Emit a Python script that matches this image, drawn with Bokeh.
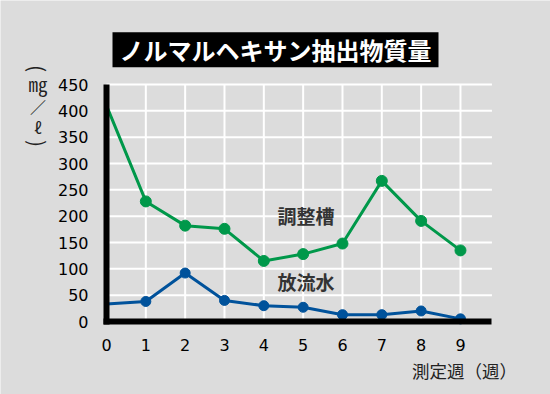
import math
from bokeh.plotting import figure
from bokeh.models import Label, FixedTicker, Range1d
from bokeh.embed import file_html
from bokeh.resources import INLINE

# ---- data ----
weeks = [0, 1, 2, 3, 4, 5, 6, 7, 8, 9]
tank = [410, 228, 182, 176, 115, 128, 148, 267, 191, 135]      # 調整槽
effluent = [33, 38, 92, 40, 30, 27, 13, 13, 20, 5]           # 放流水
y_ticks = [0, 50, 100, 150, 200, 250, 300, 350, 400, 450]
x_ticks = weeks
title_text = "ノルマルヘキサン抽出物質量"
x_title = "測定週（週）"
unit_parts = ["(", "㎎", "／", "ℓ", ")"]
series_names = ["調整槽", "放流水"]

BG = "#dcdcdc"
GREEN = "#00984a"
BLUE = "#00529b"
JP = "Noto Sans CJK JP"

# ---- layout (pixels) ----
W, H = 550, 394
X0_PX, XSTEP = 106, 39.33          # x=0 position and pixels per week
Y0_PX, YSCALE = 321, 237 / 450     # y=0 position and pixels per unit
X_END = 9.8
Y_END = 450


def dx(px):
    return (px - X0_PX) / XSTEP


def dy(py):
    return (Y0_PX - py) / YSCALE


p = figure(width=W, height=H,
           x_range=Range1d(dx(0), dx(W)), y_range=Range1d(dy(H), dy(0)),
           output_backend="svg", toolbar_location=None,
           min_border=0, min_border_left=0, min_border_right=0,
           min_border_top=0, min_border_bottom=0,
           background_fill_color=BG, border_fill_color=BG, outline_line_color=None)
p.xgrid.visible = False
p.ygrid.visible = False

# grid lines (drawn from tick arrays)
p.segment(x0=x_ticks[1:], y0=[0] * (len(x_ticks) - 1), x1=x_ticks[1:], y1=[Y_END] * (len(x_ticks) - 1),
          line_color="white", line_width=2)
p.segment(x0=[0] * (len(y_ticks) - 1), y0=y_ticks[1:], x1=[X_END] * (len(y_ticks) - 1), y1=y_ticks[1:],
          line_color="white", line_width=2)

for ax in (p.xaxis, p.yaxis):
    ax.axis_line_width = 6
    ax.axis_line_color = "black"
    ax.major_tick_line_color = None
    ax.minor_tick_line_color = None
    ax.major_label_text_font = "DejaVu Sans"
    ax.major_label_text_font_size = "16px"
    ax.major_label_text_color = "black"
    ax.fixed_location = 0
p.xaxis.ticker = FixedTicker(ticks=x_ticks)
p.yaxis.ticker = FixedTicker(ticks=y_ticks)
p.xaxis.bounds = (dx(X0_PX - 3), X_END)
p.yaxis.bounds = (dy(Y0_PX + 3), Y_END)
p.xaxis.major_label_standoff = 11
p.yaxis.major_label_standoff = 12

p.line(weeks, tank, line_color=GREEN, line_width=3)
p.scatter(weeks[1:], tank[1:], size=11, fill_color=GREEN, line_color=GREEN)
p.line(weeks, effluent, line_color=BLUE, line_width=3)
p.scatter(weeks[1:], effluent[1:], size=10, fill_color=BLUE, line_color=BLUE)

p.add_layout(Label(x=dx(305.5), y=dy(215), text=series_names[0], text_font=JP, text_font_style="bold",
                   text_font_size="19px", text_color="#333333", text_align="center",
                   text_baseline="middle"))
p.add_layout(Label(x=dx(305.5), y=dy(281), text=series_names[1], text_font=JP, text_font_style="bold",
                   text_font_size="19px", text_color="#333333", text_align="center",
                   text_baseline="middle"))

p.add_layout(Label(x=dx(275), y=dy(49.3), text=title_text, text_font=JP, text_font_style="bold",
                   text_font_size="24px", text_color="white", text_align="center",
                   text_baseline="middle", background_fill_color="black", padding=(7, 0)))

p.add_layout(Label(x=dx(464), y=dy(370), text=x_title, text_font=JP, text_font_size="17.5px",
                   text_color="#222222", text_align="center", text_baseline="middle"))

unit_px_y = [68, 83, 105, 126, 143]
unit_sizes = ["21px", "19px", "16px", "16px", "21px"]
unit_angles = [-math.pi / 2, 0, 0, 0, -math.pi / 2]
for ch, py, fs, ang in zip(unit_parts, unit_px_y, unit_sizes, unit_angles):
    p.add_layout(Label(x=dx(37.5), y=dy(py), text=ch, text_font=JP, angle=ang,
                       text_font_size=fs, text_color="#222222", text_align="center",
                       text_baseline="middle"))

open("out.html", "w").write(file_html(p, INLINE))
